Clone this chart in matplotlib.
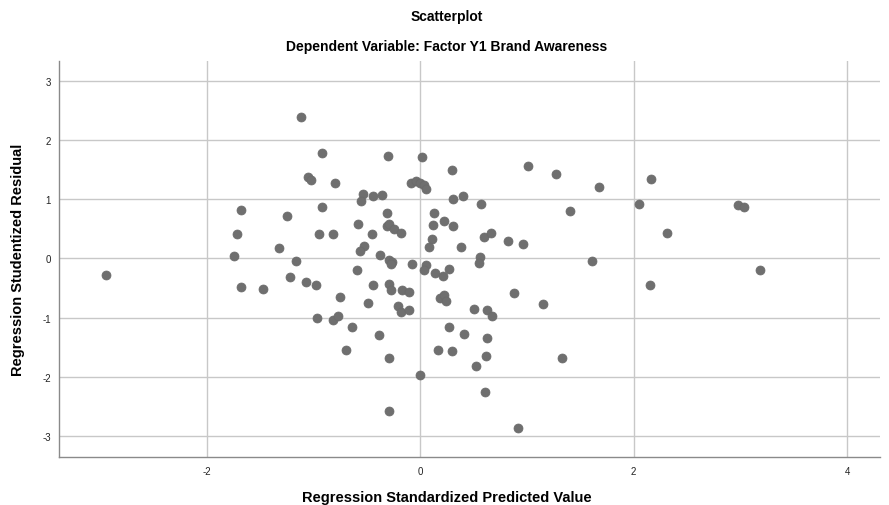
import matplotlib
matplotlib.use("Agg")
import matplotlib.pyplot as plt

plt.rcParams['font.family'] = ['Liberation Sans', 'DejaVu Sans']
plt.rcParams['axes.unicode_minus'] = False

title = "Scatterplot"
subtitle = "Dependent Variable: Factor Y1 Brand Awareness"
xlabel = "Regression Standardized Predicted Value"
ylabel = "Regression Studentized Residual"
xticks = [-2, 0, 2, 4]
yticks = [-3, -2, -1, 0, 1, 2, 3]

pred = [-1.116, -0.916, -1.056, -1.025, -0.797, -1.681, -1.247, -0.925, -1.72, -0.953,
        -0.822, -1.328, -1.747, -1.166, -2.944, -1.675, -1.478, -1.225, -1.066, -0.978,
        -0.756, -0.963, -0.816, -0.766, -0.64, -0.697, -0.303, 0.019, 0.297, 1.01,
        1.269, 1.678, 2.05, -0.087, -0.037, 0.0, 0.031, 0.056, -0.534, -0.556,
        -0.438, -0.356, 0.309, 0.397, 0.569, 1.406, -0.307, 0.125, -0.581, -0.309,
        -0.288, -0.25, -0.181, 0.119, 0.219, 0.303, -0.45, 0.109, 0.084, 0.594,
        0.66, 0.822, 0.963, 0.378, -0.525, -0.565, -0.375, -0.294, -0.26, -0.275,
        -0.075, 0.056, 0.031, 0.134, 0.213, 0.266, 0.5625, 0.555, 1.612, -0.588,
        -0.438, -0.294, -0.272, -0.169, -0.109, -0.49, -0.209, -0.181, -0.109, 0.1875,
        0.225, 0.244, 0.875, 1.153, 0.5, 0.622, 0.675, -0.3875, -0.297, 0.266,
        0.4125, 0.625, 0.1625, 0.297, 0.612, 0.522, 1.328, -0.006, 0.603, -0.294,
        0.919, 2.166, 2.313, 2.975, 3.031, 2.156, 3.184]
resid = [2.39, 1.776, 1.376, 1.326, 1.28, 0.81, 0.72, 0.865, 0.42, 0.405,
         0.405, 0.174, 0.044, -0.045, -0.276, -0.479, -0.512, -0.32, -0.394, -0.456,
         -0.647, -1.0, -1.046, -0.973, -1.164, -1.54, 1.725, 1.708, 1.5, 1.568,
         1.42, 1.2, 0.92, 1.28, 1.30, 1.28, 1.236, 1.18, 1.09, 0.97,
         1.062, 1.073, 1.0, 1.062, 0.92, 0.803, 0.775, 0.77, 0.59, 0.556,
         0.578, 0.5, 0.438, 0.567, 0.634, 0.54, 0.405, 0.33, 0.196, 0.364,
         0.438, 0.303, 0.236, 0.196, 0.213, 0.128, 0.05, -0.02, -0.056, -0.10,
         -0.09, -0.11, -0.197, -0.253, -0.298, -0.18, 0.027, -0.075, -0.045, -0.192,
         -0.45, -0.428, -0.53, -0.535, -0.568, -0.759, -0.804, -0.9, -0.872, -0.675,
         -0.614, -0.715, -0.58, -0.776, -0.85, -0.872, -0.968, -1.3, -1.676, -1.153,
         -1.27, -1.339, -1.546, -1.568, -1.648, -1.82, -1.686, -1.963, -2.26, -2.58,
         -2.857, 1.349, 0.427, 0.899, 0.865, -0.45, -0.197]

fig = plt.figure(figsize=(8.89, 5.06), dpi=100)
ax = fig.add_axes([0.0664, 0.094, 0.9236, 0.783])

ax.scatter(pred, resid, s=42, color='#6f6f6f', edgecolors='#6a6a6a', linewidths=0.5, zorder=3)

ax.set_xlim(-3.385, 4.31)
ax.set_ylim(-3.36, 3.33)
ax.set_xticks(xticks)
ax.set_yticks(yticks)
ax.grid(True, color='#c8c8c8', linewidth=1.0, zorder=0)
ax.set_axisbelow(True)
for side in ['top', 'right']:
    ax.spines[side].set_visible(False)
for side in ['left', 'bottom']:
    ax.spines[side].set_color('#8a8a8a')
    ax.spines[side].set_linewidth(1.0)
ax.tick_params(axis='both', length=0, labelsize=7, colors='#222222', pad=6)

fig.text(0.5028, 0.966, title, ha='center', va='center', fontsize=10, fontweight='bold')
fig.text(0.5028, 0.907, subtitle, ha='center', va='center', fontsize=10, fontweight='bold')
fig.text(0.5028, 0.002, xlabel, ha='center', va='bottom', fontsize=10.5, fontweight='bold')
fig.text(0.02, 0.486, ylabel, ha='center', va='center', rotation=90, fontsize=10.5, fontweight='bold')

fig.savefig('out.png', dpi=100)
